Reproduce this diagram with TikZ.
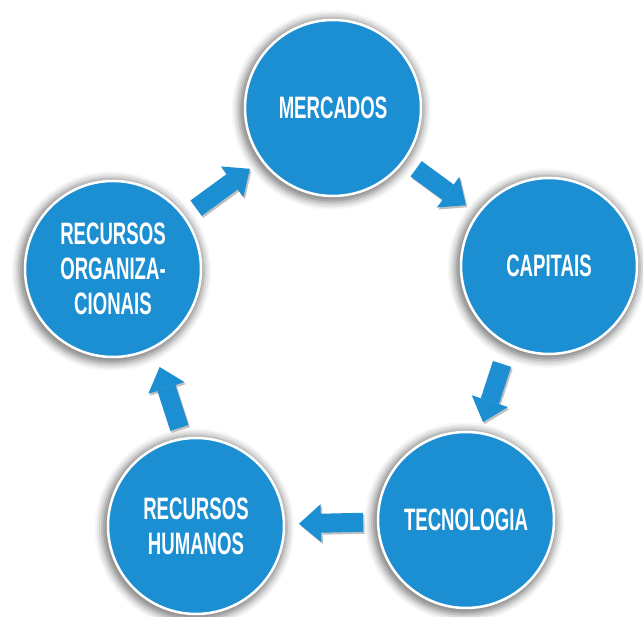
\documentclass[tikz,border=0pt]{standalone}
\usepackage{fontspec}
\newfontfamily\condfont[FakeStretch=0.6]{Liberation Sans}
\usetikzlibrary{arrows.meta,shadows.blur,calc}
\definecolor{cblue}{RGB}{28,143,210}
\begin{document}
\begin{tikzpicture}[x=1pt,y=1pt,
  circ/.style={circle, minimum size=176pt, inner sep=0pt, fill=cblue, draw=white,
    line width=2.5pt, text=white, align=center,
    font=\condfont\bfseries\fontsize{31}{35}\selectfont,
    blur shadow={shadow xshift=-1.5pt, shadow yshift=-2pt, shadow scale=1.05,
      shadow blur radius=7pt, shadow opacity=50}},
  flow/.style={draw=cblue, line width=19pt,
    -{Triangle[length=22pt,width=38pt,line width=0pt]}},
  flowsh/.style={draw=black!25, line width=19pt,
    -{Triangle[length=22pt,width=38pt,line width=0pt]}}
]
\useasboundingbox (0,0) rectangle (643,617);
\node[circ] (merc) at (333,509) {MERCADOS};
\node[circ] (cap)  at (549,351) {CAPITAIS};
\node[circ] (tec)  at (466,97)  {TECNOLOGIA};
\node[circ] (hum)  at (196,91)  {RECURSOS\\HUMANOS};
\node[circ] (org)  at (113,348) {RECURSOS\\ORGANIZA-\\CIONAIS};
% arrow end points
\coordinate (s1) at ($(merc)!103pt!(cap)$);
\coordinate (e1) at ($(cap)!103pt!(merc)$);
\coordinate (s2) at ($(cap)!103pt!(tec)+(-15,0)$);
\coordinate (e2) at ($(tec)!103pt!(cap)+(-15,0)$);
\coordinate (s3) at ($(tec)!103pt!(hum)$);
\coordinate (e3) at ($(hum)!103pt!(tec)$);
\coordinate (s4) at ($(hum)!103pt!(org)+(15,0)$);
\coordinate (e4) at ($(org)!103pt!(hum)+(15,0)$);
\coordinate (s5) at ($(org)!103pt!(merc)$);
\coordinate (e5) at ($(merc)!103pt!(org)$);
\foreach \a/\b in {s1/e1,s2/e2,s3/e3,s4/e4,s5/e5}{
  \draw[flowsh] ([shift={(1.5,-2)}]\a) -- ([shift={(1.5,-2)}]\b);
  \draw[flow] (\a) -- (\b);
}
\end{tikzpicture}
\end{document}
